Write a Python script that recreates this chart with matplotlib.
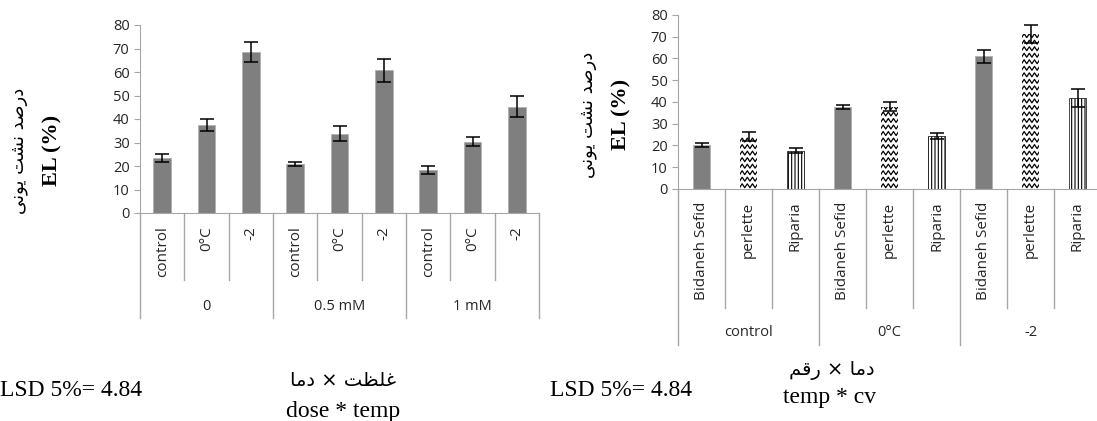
import numpy as np
import matplotlib
matplotlib.use('Agg')
import matplotlib.pyplot as plt

# Chart 1: dose * temp
dose_groups = ['0', '0.5 mM', '1 mM']
dose_temps = ['control', '0°C', '-2']
dose_el = [23.5, 37.5, 68.5, 21.0, 33.8, 60.8, 18.3, 30.4, 45.3]
dose_err = [1.6, 2.5, 4.1, 0.8, 3.1, 4.9, 1.5, 2.0, 4.4]

# Chart 2: temp * cv
cv_groups = ['control', '0°C', '-2']
cultivars = ['Bidaneh Sefid', 'perlette', 'Riparia']
cv_el = [20.1, 24.1, 17.7, 37.8, 37.8, 24.3, 61.1, 71.4, 41.8]
cv_err = [0.9, 2.0, 1.1, 0.9, 2.0, 1.5, 3.0, 4.1, 4.1]

yticks = [0, 10, 20, 30, 40, 50, 60, 70, 80]

ylabel_fa = 'درصد نشت یونی'
ylabel_en = 'EL (%)'
lsd_text = 'LSD 5%= 4.84'
title1_fa = 'غلظت × دما'
title1_en = 'dose * temp'
title2_fa = 'دما × رقم'
title2_en = 'temp * cv'

GRAY = '#7f7f7f'
AXIS = '#a6a6a6'
SANS = 'Open Sans'
SERIF = 'Liberation Serif'

plt.rcParams['hatch.linewidth'] = 0.8

# arabic letters: isolated, final, initial, medial
FORMS = {
    'ا': ('\uFE8D', '\uFE8E', None, None),
    'د': ('\uFEA9', '\uFEAA', None, None),
    'ر': ('\uFEAD', '\uFEAE', None, None),
    'و': ('\uFEED', '\uFEEE', None, None),
    'ص': ('\uFEB9', '\uFEBA', '\uFEBB', '\uFEBC'),
    'ن': ('\uFEE5', '\uFEE6', '\uFEE7', '\uFEE8'),
    'ش': ('\uFEB5', '\uFEB6', '\uFEB7', '\uFEB8'),
    'ت': ('\uFE95', '\uFE96', '\uFE97', '\uFE98'),
    'غ': ('\uFECD', '\uFECE', '\uFECF', '\uFED0'),
    'ل': ('\uFEDD', '\uFEDE', '\uFEDF', '\uFEE0'),
    'ظ': ('\uFEC5', '\uFEC6', '\uFEC7', '\uFEC8'),
    'م': ('\uFEE1', '\uFEE2', '\uFEE3', '\uFEE4'),
    'ق': ('\uFED5', '\uFED6', '\uFED7', '\uFED8'),
    'ی': ('\uFBFC', '\uFBFD', '\uFBFE', '\uFBFF'),
}


def shape(text):
    """Join Persian letters and put them in visual order."""
    out = []
    for i, ch in enumerate(text):
        if ch not in FORMS:
            out.append(ch)
            continue
        iso, fin, ini, med = FORMS[ch]
        prev = text[i - 1] if i > 0 else ''
        nxt = text[i + 1] if i + 1 < len(text) else ''
        jp = prev in FORMS and FORMS[prev][2] is not None
        jn = ini is not None and nxt in FORMS
        if jp and jn:
            out.append(med)
        elif jp:
            out.append(fin)
        elif jn:
            out.append(ini)
        else:
            out.append(iso)
    return ''.join(reversed(out))


def zigzag(ax, bar, period=0.11, gap=3.0, amp=0.9):
    x0, w, h = bar.get_x(), bar.get_width(), bar.get_height()
    xs = np.arange(x0 - period, x0 + w + period, period / 2)
    for base in np.arange(gap / 2, h + gap, gap):
        ys = base + amp * ((np.arange(len(xs)) % 2) * 2 - 1)
        ln, = ax.plot(xs, ys, color='black', lw=0.9, zorder=2)
        ln.set_clip_path(bar)


def setup(ax, labels, groups, pad, inner, outer, glabel):
    n = len(labels)
    ax.set_xlim(-0.5, n - 0.5)
    ax.set_ylim(0, 80)
    ax.set_yticks(yticks)
    for s in ['top', 'right']:
        ax.spines[s].set_visible(False)
    for s in ['left', 'bottom']:
        ax.spines[s].set_color(AXIS)
    ax.tick_params(axis='y', length=4, color=AXIS, labelsize=10.5, labelcolor='#262626')
    ax.tick_params(axis='x', length=0, pad=pad, labelsize=11, labelcolor='#262626')
    ax.set_xticks(range(n))
    ax.set_xticklabels(labels, rotation=90, fontfamily=SANS)
    for t in ax.get_yticklabels():
        t.set_fontfamily(SANS)
    tr = ax.get_xaxis_transform()
    k = n // len(groups)
    for b in range(n + 1):
        depth = outer if b % k == 0 else inner
        ax.plot([b - 0.5, b - 0.5], [0, -depth], color=AXIS, lw=1,
                transform=tr, clip_on=False)
    for g, name in enumerate(groups):
        ax.text(g * k + (k - 1) / 2, -glabel, name, transform=tr, ha='center',
                va='center', fontsize=10.5, fontfamily=SANS, color='#262626')


fig = plt.figure(figsize=(10.97, 4.21), dpi=100)
W, H = 1097, 421

# left chart
ax1 = fig.add_axes([140 / W, 1 - 213 / H, 399 / W, 188 / H])
x1 = np.arange(len(dose_el))
ax1.bar(x1, dose_el, width=0.4, color=GRAY, edgecolor='#b0b0b0', lw=0.6, zorder=1)
ax1.errorbar(x1, dose_el, yerr=dose_err, fmt='none', ecolor='black',
             elinewidth=1.1, capsize=4.7, capthick=1.1, zorder=3)
setup(ax1, dose_temps * len(dose_groups), dose_groups, 9.5,
      67 / 188, 105 / 188, 94 / 188)

# right chart
ax2 = fig.add_axes([678 / W, 1 - 189 / H, 423 / W, 174 / H])
x2 = np.arange(len(cv_el))
bars = ax2.bar(x2, cv_el, width=0.38, color='white', lw=0, zorder=1)
for i, bar in enumerate(bars):
    kind = cultivars[i % 3]
    if kind == 'Bidaneh Sefid':
        bar.set_facecolor(GRAY)
        bar.set_edgecolor('#b0b0b0')
        bar.set_linewidth(0.6)
    elif kind == 'perlette':
        zigzag(ax2, bar)
    else:
        bar.set_edgecolor('black')
        bar.set_hatch('|||||')
        bar.set_linewidth(0.5)
ax2.errorbar(x2, cv_el, yerr=cv_err, fmt='none', ecolor='black',
             elinewidth=1.1, capsize=5, capthick=1.1, zorder=3)
setup(ax2, cultivars * len(cv_groups), cv_groups, 9,
      119 / 174, 156 / 174, 144 / 174)

# y labels
fa = ['DejaVu Sans']
fig.text(19 / W, 1 - 151 / H, shape(ylabel_fa), rotation=90, ha='center', va='center',
         fontsize=13, family=fa)
fig.text(52 / W, 1 - 150 / H, ylabel_en, rotation=90, ha='center', va='center',
         fontsize=16, fontweight='bold', family=SERIF)
fig.text(588 / W, 1 - 115 / H, shape(ylabel_fa), rotation=90, ha='center', va='center',
         fontsize=13, family=fa)
fig.text(621 / W, 1 - 114 / H, ylabel_en, rotation=90, ha='center', va='center',
         fontsize=16, fontweight='bold', family=SERIF)

# bottom notes
fig.text(0, 1 - 391 / H, lsd_text, ha='left', va='center', fontsize=17, family=SERIF)
fig.text(550 / W, 1 - 391 / H, lsd_text, ha='left', va='center', fontsize=17, family=SERIF)
fig.text(343 / W, 1 - 380 / H, shape(title1_fa), ha='center', va='center',
         fontsize=14, family=fa)
fig.text(343 / W, 1 - 411 / H, title1_en, ha='center', va='center', fontsize=17, family=SERIF)
fig.text(832 / W, 1 - 371 / H, shape(title2_fa), ha='center', va='center',
         fontsize=14, family=fa)
fig.text(830 / W, 1 - 398 / H, title2_en, ha='center', va='center', fontsize=17, family=SERIF)

fig.savefig('out.png', dpi=100)
